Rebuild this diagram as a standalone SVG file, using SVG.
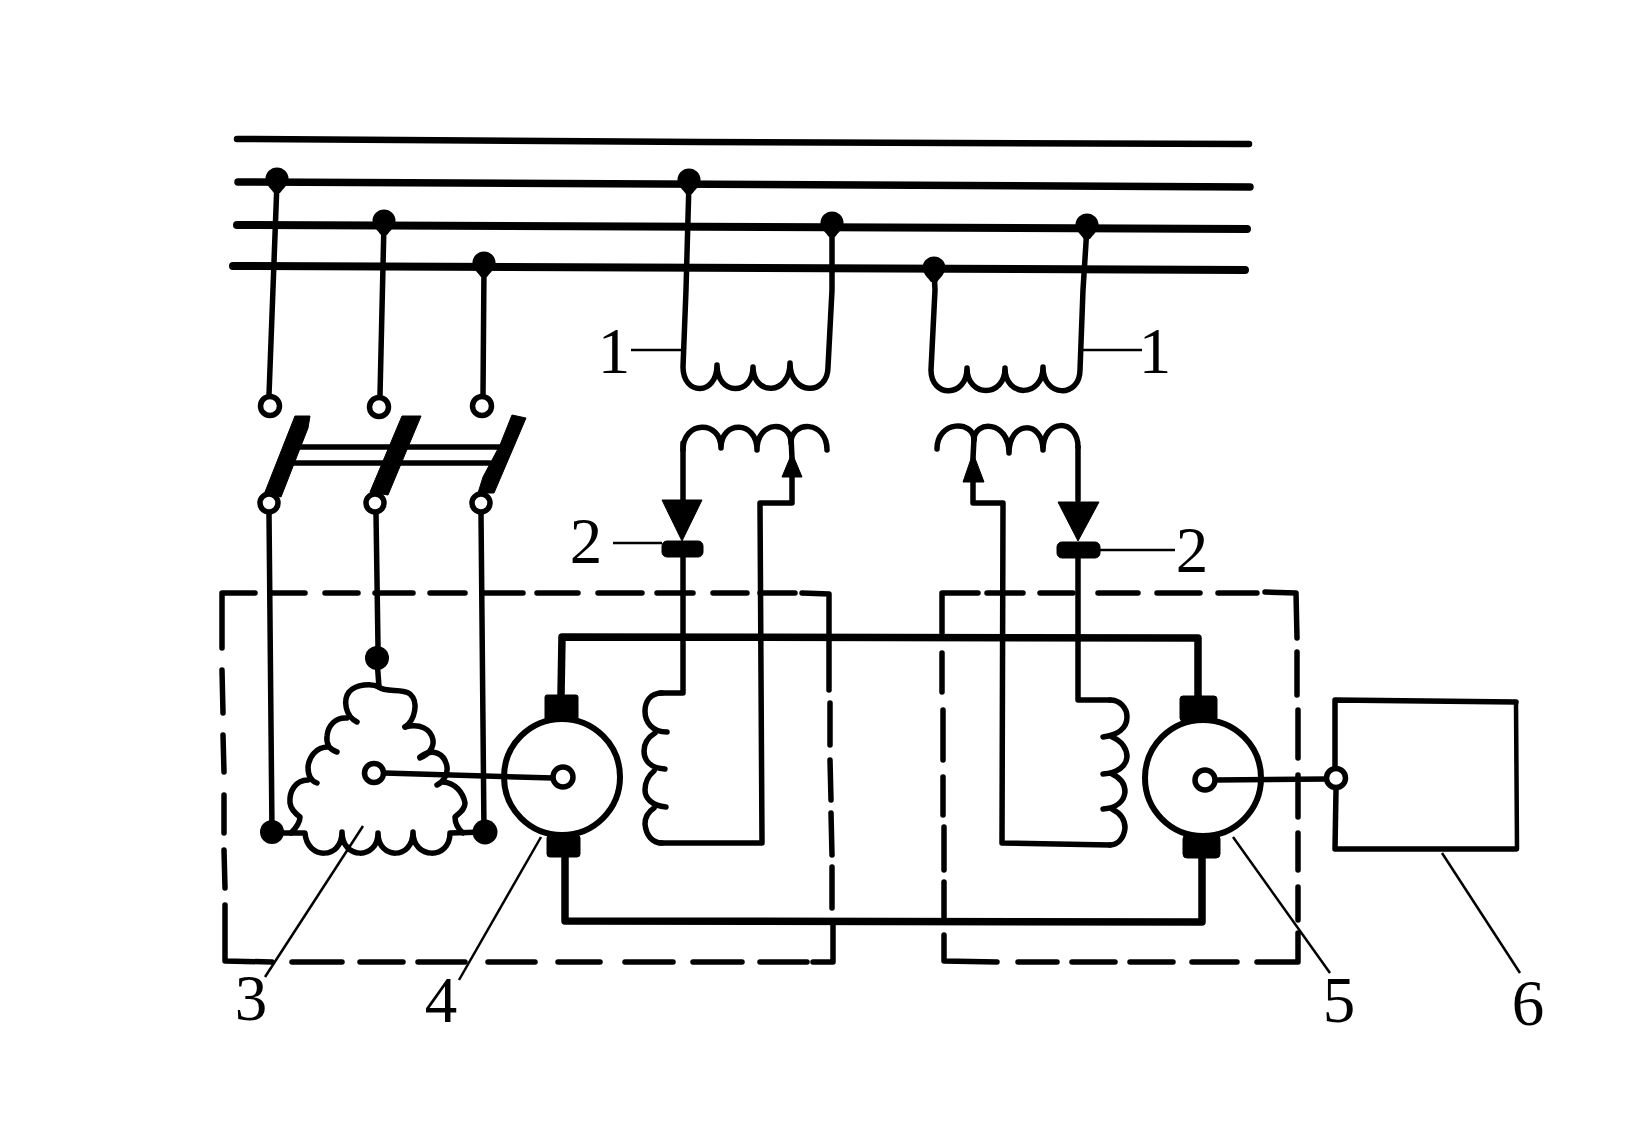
<svg xmlns="http://www.w3.org/2000/svg" width="1647" height="1127" viewBox="0 0 1647 1127">
<style>
.w{fill:none;stroke:#000;stroke-width:5.5;stroke-linecap:round;stroke-linejoin:round}
.bus{fill:none;stroke:#000;stroke-linecap:round}
.thick{fill:none;stroke:#000;stroke-width:7.5;stroke-linecap:round;stroke-linejoin:round}
.dash{fill:none;stroke:#000;stroke-width:5.5;stroke-linecap:round;stroke-linejoin:round}
.leader{fill:none;stroke:#000;stroke-width:2.5}
.open{fill:#fff;stroke:#000;stroke-width:5.5}
.dot{fill:#000}
.solid{fill:#000;stroke:#000;stroke-width:1;stroke-linejoin:round}
.num{font-family:"Liberation Serif","Times New Roman",serif;font-size:65px;fill:#000;text-anchor:middle}
</style>
<defs>
<path id="tap" class="dot" d="M-11.5,-1 A11.5,11.5 0 0 1 11.5,-1 C11.5,4 6,9 3,13 L-3,13 C-6,9 -11.5,4 -11.5,-1 Z"/>
</defs>
<rect width="1647" height="1127" fill="#fff"/>
<g id="busbars">
<path class="bus" stroke-width="6.5" d="M237,139 L700,142 L1249,144"/>
<path class="bus" stroke-width="7.5" d="M238,182 L1250,187"/>
<path class="bus" stroke-width="8" d="M237,225 L1247,229"/>
<path class="bus" stroke-width="8" d="M233,266 L1245,270"/>
</g>
<g id="enclosures">
<path class="dash" d="M222,648 L222,593 L255,593 M272,593 L305,593 M325,593 L358,593 M375,593 L413,593 M430,593 L465,593 M483,593 L523,593 M537,593 L578,593 M598,593 L642,593 M657,593 L693,593 M713,593 L747,593 M760,593 L795,593 M802,593 L829,594 L829,690 M830,703 L830,745 M830,760 L831,800 M831,813 L832,855 M832,867 L832,908 M833,925 L833,962 L813,962 M807,962 L760,962 M742,962 L693,962 M673,962 L625,962 M600,962 L558,962 M535,962 L488,962 M465,962 L418,962 M403,962 L360,962 M342,962 L292,962 M272,962 L225,961 L225,905 M225,888 L224,850 M224,833 L224,795 M224,772 L223,735 M223,713 L222,670"/>
<path class="dash" d="M942,633 L942,593 L978,593 M987,593 L1023,593 M1040,593 L1073,593 M1098,593 L1138,593 M1157,593 L1200,593 M1218,593 L1257,593 M1265,592 L1296,593 L1297,638 M1297,652 L1297,695 M1298,710 L1298,758 M1298,775 L1298,817 M1298,833 L1298,870 M1298,887 L1298,920 M1298,933 L1298,962 L1257,962 M1237,962 L1192,962 M1173,962 L1130,962 M1115,962 L1072,962 M1057,962 L1018,962 M997,962 L944,961 L944,935 M944,922 L944,882 M944,870 L944,827 M943,815 L943,777 M943,760 L943,710 M942,692 L942,653"/>
</g>
<g id="connectors">
<path class="w" d="M277,182 L269,395"/>
<path class="w" d="M384,223 L380,395"/>
<path class="w" d="M484,266 L483,395"/>
<path class="w" d="M269,513 L272,832"/>
<path class="w" d="M376,513 L378,647"/>
<path class="w" d="M481,513 L484,832"/>
<path class="w" d="M377,660 L379,687"/>
<path class="w" d="M300,447 L500,447 M292,463 L490,463"/>
<path class="w" d="M384,773 L553,778"/>
<path class="w" d="M1215,780 L1326,779"/>
<path class="thick" d="M561,695 L562,637 L1198,638 L1198,696"/>
<path class="thick" d="M565,857 L565,921 L1202,922 L1202,858"/>
<path class="w" d="M683,443 L683,500 M683,555 L683,693 L660,693"/>
<path class="w" d="M792,477 L792,503 L760,503 L762,843 L660,843"/>
<path class="w" d="M1078,447 L1078,500 M1078,555 L1078,700 L1110,700"/>
<path class="w" d="M973,482 L973,503 L1003,503 L1002,843 L1110,845"/>
</g>
<g id="transformer-1">
<path class="w" d="M689,182 L686,290 L683,367 C683,396 717,396 717,365 C717,396 753,396 753,367 C753,396 790,396 790,363 C790,396 828,396 828,367 L832,290 L832,225"/>
<path class="w" d="M683,450 C683,420 721,420 721,448 C721,420 757,420 757,450 C757,420 791,420 791,443 C791,420 827,420 827,450"/>
<polygon class="solid" points="782,477 802,477 792,453"/>
<path class="w" d="M792,458 L791,437"/>
<polygon class="solid" points="662,500 702,500 682,541"/>
<rect class="solid" x="662" y="541" width="41" height="16" rx="5"/>
</g>
<g id="transformer-2">
<path class="w" d="M934,270 L935,290 L931,370 C931,398 967,398 967,368 C967,398 1005,398 1005,368 C1005,398 1043,398 1043,367 C1043,398 1080,398 1080,370 L1083,290 L1087,227"/>
<path class="w" d="M937,449 C937,420 974,420 974,440 C974,420 1009,420 1009,453 C1009,420 1043,420 1043,450 C1043,418 1078,418 1078,447"/>
<polygon class="solid" points="963,482 984,482 973,453"/>
<path class="w" d="M973,458 L974,438"/>
<polygon class="solid" points="1058,502 1099,502 1078,541"/>
<rect class="solid" x="1057" y="542" width="43" height="16" rx="5"/>
</g>
<g id="switch">
<polygon class="solid" points="295,416 310,416 308,428 281,497 265,492"/>
<polygon class="solid" points="402,416 421,416 388,495 370,492"/>
<polygon class="solid" points="512,415 526,418 494,493 478,493 483,477 500,445"/>
<circle class="open" cx="270" cy="406" r="9.5"/>
<circle class="open" cx="379" cy="407" r="9.5"/>
<circle class="open" cx="482" cy="406" r="9.5"/>
<circle class="open" cx="269" cy="503" r="9"/>
<circle class="open" cx="375" cy="503" r="9"/>
<circle class="open" cx="481" cy="503" r="9"/>
</g>
<g id="junctions">
<use href="#tap" x="277" y="180"/>
<use href="#tap" x="384" y="222"/>
<use href="#tap" x="484" y="264"/>
<use href="#tap" x="689" y="181"/>
<use href="#tap" x="832" y="224"/>
<use href="#tap" x="934" y="269"/>
<use href="#tap" x="1087" y="226"/>
</g>
<g id="stator">
<path class="w" d="M272,833 L305,833 C307,860 342,860 342,832 C342,860 378,860 378,833 C378,860 413,860 413,832 C413,860 450,860 450,833 L485,832"/>
<path class="w" d="M379,687 C372,683 356,684 349,692 C343,700 345,716 357,722"/>
<path class="w" d="M379,687 C385,693 403,688 410,694 C419,702 415,720 405,727"/>
<path class="w" d="M347,718 C335,717 328,726 327,736 C326,744 330,750 337,752"/>
<path class="w" d="M328,747 C316,747 309,757 308,767 C308,775 311,781 317,783"/>
<path class="w" d="M308,780 C295,780 289,792 290,803 C291,810 296,814 300,817 C300,822 297,827 291,833"/>
<path class="w" d="M405,727 C420,723 431,729 433,740 C434,748 428,755 420,758"/>
<path class="w" d="M420,757 C433,747 445,754 447,767 C448,775 443,782 437,785"/>
<path class="w" d="M443,782 C455,783 463,792 465,803 C465,810 459,813 455,817 C455,822 457,828 463,833"/>
<circle class="dot" cx="377" cy="658" r="12"/>
<circle class="dot" cx="272" cy="832" r="12"/>
<circle class="dot" cx="485" cy="832" r="12.5"/>
<circle class="open" cx="374" cy="773" r="9.5"/>
</g>
<g id="generator">
<circle cx="562" cy="777" r="58" fill="none" stroke="#000" stroke-width="6"/>
<rect class="solid" x="545" y="695" width="33" height="25" rx="2"/>
<rect class="solid" x="547" y="835" width="33" height="22" rx="3"/>
<circle class="open" cx="563" cy="777" r="10"/>
</g>
<g id="field-coil-1">
<path class="w" d="M662,693 C650,693 645,702 645,711 C645,722 652,732 667,732 M655,733 C647,738 644,745 644,751 C644,760 650,768 665,769 M654,771 C648,776 645,783 645,790 C645,798 652,806 666,807 M654,808 C648,812 645,818 645,824 C646,835 652,843 662,843"/>
</g>
<g id="motor">
<circle cx="1203" cy="778" r="58" fill="none" stroke="#000" stroke-width="6"/>
<rect class="solid" x="1180" y="696" width="37" height="25" rx="3"/>
<rect class="solid" x="1183" y="835" width="37" height="23" rx="4"/>
<circle class="open" cx="1205" cy="780" r="10"/>
</g>
<g id="field-coil-2">
<path class="w" d="M1110,700 C1120,700 1127,708 1127,717 C1127,728 1118,735 1103,737 M1112,737 C1122,741 1127,749 1127,757 C1126,766 1118,773 1103,774 M1112,774 C1121,778 1125,785 1125,792 C1124,801 1117,808 1103,809 M1112,809 C1120,813 1125,820 1125,828 C1124,838 1118,845 1110,845"/>
</g>
<g id="load">
<path class="w" d="M1335,768 L1335,700 L1516,702"/>
<path class="w" style="stroke-width:4.5" d="M1516,702 L1517,849"/>
<path class="w" d="M1336,790 L1335,849 L1516,849"/>
<circle class="open" cx="1336" cy="778" r="9.5"/>
</g>
<g id="leaders">
<path class="leader" d="M631,350 L681,350"/>
<path class="leader" d="M1083,350 L1142,350"/>
<path class="leader" d="M613,543 L662,543"/>
<path class="leader" d="M1100,550 L1175,550"/>
<path class="leader" d="M363,826 L265,977"/>
<path class="leader" d="M541,837 L459,980"/>
<path class="leader" d="M1233,837 L1330,973"/>
<path class="leader" d="M1442,853 L1520,973"/>
</g>
<g id="labels">
<text class="num" x="614" y="373">1</text>
<text class="num" x="1155" y="373">1</text>
<text class="num" x="586" y="563">2</text>
<text class="num" x="1192" y="572">2</text>
<text class="num" x="251" y="1020">3</text>
<text class="num" x="441" y="1022">4</text>
<text class="num" x="1339" y="1022">5</text>
<text class="num" x="1528" y="1025">6</text>
</g>
</svg>
